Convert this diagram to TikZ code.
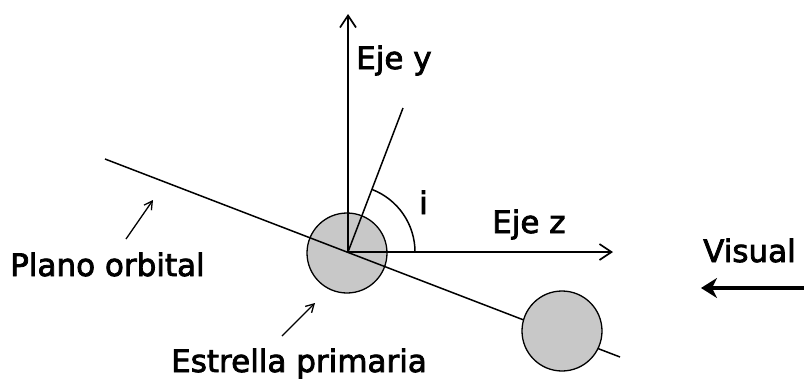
\documentclass[tikz,border=0pt]{standalone}
\usepackage{fontspec}
\newfontfamily\lblfont[FakeBold=2.5]{DejaVu Sans}
\usetikzlibrary{arrows.meta}
\definecolor{stargray}{RGB}{200,200,200}
\begin{document}
\begin{tikzpicture}[x=1pt,y=-1pt,
  lbl/.style={inner sep=0pt,font=\lblfont\fontsize{31}{36}\selectfont},
  thinline/.style={line width=1.5pt},
  axis/.style={line width=1.7pt,-{Straight Barb[length=12pt,width=16pt,line width=1.7pt]}},
  pointer/.style={line width=1.3pt,-{Straight Barb[length=8pt,width=9pt,line width=1.3pt]}},
  star/.style={circle,draw=black,line width=1.3pt,fill=stargray,minimum size=80pt,inner sep=0pt}]
\useasboundingbox (0,0) rectangle (804,378);
% primary star
\node[star] (prim) at (347,253) {};
\coordinate (o) at (348,252);
% orbital plane line
\coordinate (pl1) at (105,159);
\coordinate (pl2) at (620,357);
\draw[thinline] (pl1) -- (pl2);
% secondary star (covers the line)
\node[star] (sec) at (562,331) {};
% axes
\coordinate (ytip) at (348,14);
\coordinate (ztip) at (613,252);
\draw[axis] (o) -- (ytip);
\draw[axis] (o) -- (ztip);
% inclined direction and angle
\coordinate (incl) at (403,108);
\draw[thinline] (o) -- (incl);
\draw[thinline] ([shift={(67,0)}]o) arc[start angle=0,end angle=-69,radius=67];
% labels
\node[lbl,anchor=base west] (ey) at (356,69) {Eje y};
\node[lbl,anchor=base west] (ez) at (492,233) {Eje z};
\node[lbl,anchor=base west] (ii) at (419,214) {i};
\node[lbl,anchor=base west] (po) at (10,276) {Plano orbital};
\node[lbl,anchor=base west] (ep) at (171,372) {Estrella primaria};
\node[lbl,anchor=base west] (vis) at (703,262) {Visual};
% pointers
\coordinate (pa1) at (126,239);
\coordinate (pa2) at (153,200);
\draw[pointer] (pa1) -- (pa2);
\coordinate (pb1) at (282,336);
\coordinate (pb2) at (315,303);
\draw[pointer] (pb1) -- (pb2);
% line of sight arrow
\coordinate (v1) at (804,288);
\coordinate (v2) at (701,288);
\draw[line width=3.2pt,-{Stealth[length=16pt,width=20pt,inset=5pt]}] (v1) -- (v2);
\end{tikzpicture}
\end{document}
